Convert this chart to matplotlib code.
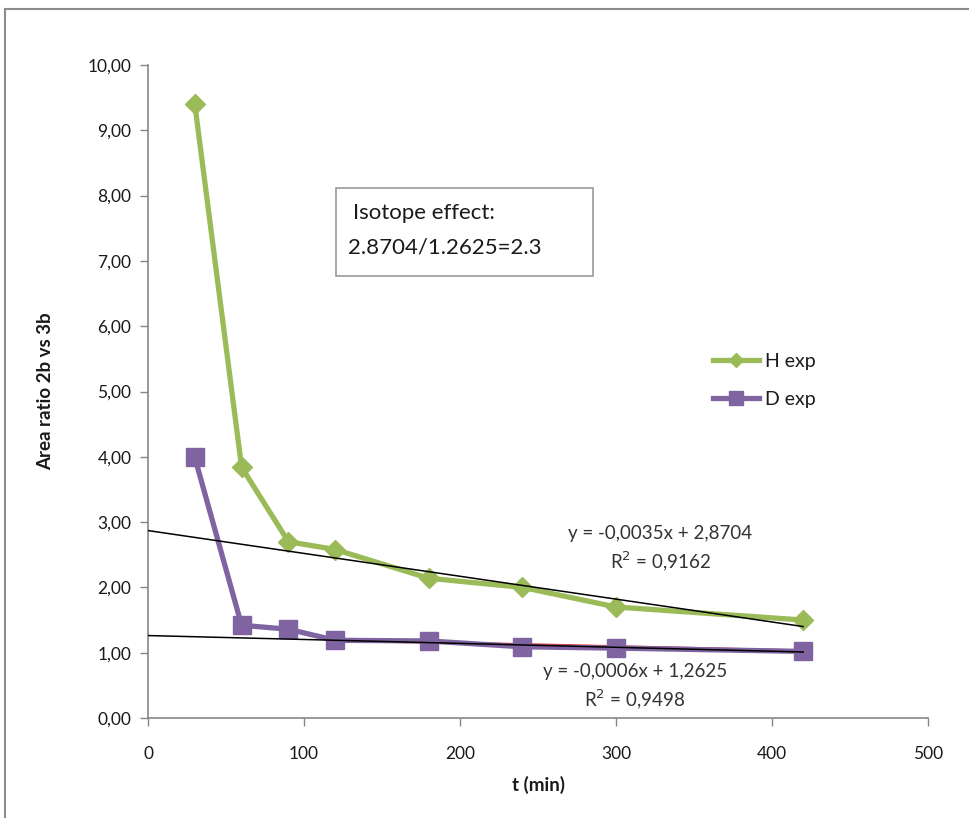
import matplotlib
matplotlib.use("Agg")
import matplotlib.pyplot as plt
from matplotlib.lines import Line2D
from matplotlib.patches import Rectangle

plt.rcParams['font.family'] = ['Lato', 'DejaVu Sans']

t = [30, 60, 90, 120, 180, 240, 300, 420]
h_exp = [9.40, 3.84, 2.70, 2.58, 2.14, 2.00, 1.70, 1.50]
d_exp = [3.99, 1.42, 1.36, 1.19, 1.18, 1.09, 1.07, 1.02]

fit_h = (-0.0035, 2.8704)
fit_d = (-0.0006, 1.2625)
fit_x = [0, 420]

x_ticks = [0, 100, 200, 300, 400, 500]
y_ticks = [0, 1, 2, 3, 4, 5, 6, 7, 8, 9, 10]

W, H = 969, 818
fig = plt.figure(figsize=(W / 100, H / 100), dpi=100)
fig.patch.set_facecolor('white')

# outer chart frame (top and left edges visible)
fig.add_artist(Line2D([5 / W, 1.0], [1 - 9 / H, 1 - 9 / H], color='#8c8c8c', lw=1.5))
fig.add_artist(Line2D([5 / W, 5 / W], [1 - 9 / H, 0.0], color='#8c8c8c', lw=1.5))

ax = fig.add_axes([148 / W, 1 - 718 / H, (928 - 148) / W, (718 - 65) / H])

green = '#9BBB59'
purple = '#8064A2'

# red trendline partly hidden under D series
ax.plot([120, 420], [d_exp[3], d_exp[-1] + 0.01], color='#e03030', lw=2.0, zorder=2)

ax.plot(t, h_exp, color=green, lw=3.8, marker='D', ms=10, mfc=green, mec=green,
        label='H exp', zorder=3)
ax.plot(t, d_exp, color=purple, lw=3.8, marker='s', ms=13, mfc=purple, mec=purple,
        label='D exp', zorder=3)

ax.plot(fit_x, [fit_h[0] * x + fit_h[1] for x in fit_x], color='black', lw=1.1, zorder=4)
ax.plot(fit_x, [fit_d[0] * x + fit_d[1] for x in fit_x], color='black', lw=1.1, zorder=4)

ax.set_xlim(0, 500)
ax.set_ylim(0, 10)
ax.set_xticks(x_ticks)
ax.set_yticks(y_ticks)
ax.set_xticklabels([str(v) for v in x_ticks])
ax.set_yticklabels([f"{v:.2f}".replace('.', ',') for v in y_ticks])

for s in ['top', 'right']:
    ax.spines[s].set_visible(False)
for s in ['left', 'bottom']:
    ax.spines[s].set_color('#868686')
    ax.spines[s].set_linewidth(1.2)

ax.tick_params(axis='both', direction='out', length=6, width=1.0, color='#868686',
               labelsize=12.5, labelcolor='#1a1a1a')
ax.tick_params(axis='x', pad=14)
ax.tick_params(axis='y', pad=6)

ax.set_xlabel('t (min)', fontsize=13.5, fontweight='bold', labelpad=10, color='#1a1a1a')
ax.set_ylabel('Area ratio 2b vs 3b', fontsize=13.5, fontweight='bold', labelpad=24, color='#1a1a1a')

# Isotope effect box
fig.text(353 / W, 1 - 213 / H, 'Isotope effect:', fontsize=16, va='center', ha='left', color='#1a1a1a')
fig.text(348 / W, 1 - 248 / H, '2.8704/1.2625=2.3', fontsize=16, va='center', ha='left', color='#1a1a1a')
fig.add_artist(Rectangle((336 / W, 1 - 276 / H), (593 - 336) / W, (276 - 188) / H,
                         transform=fig.transFigure, fill=False, ec='#9a9a9a', lw=1.2))

# trendline equations
fig.text(660 / W, 1 - 534 / H, 'y = -0,0035x + 2,8704', fontsize=13.5, ha='center', va='center', color='#333333')
fig.text(660 / W, 1 - 561 / H, 'R$^2$ = 0,9162', fontsize=13.5, ha='center', va='center', color='#333333')
fig.text(635 / W, 1 - 672 / H, 'y = -0,0006x + 1,2625', fontsize=13.5, ha='center', va='center', color='#333333')
fig.text(635 / W, 1 - 699 / H, 'R$^2$ = 0,9498', fontsize=13.5, ha='center', va='center', color='#333333')

leg = ax.legend(loc='upper left', bbox_to_anchor=(695 / W, 1 - 335 / H), bbox_transform=fig.transFigure,
                frameon=False, fontsize=14, handlelength=2.4, labelspacing=1.1, handletextpad=0.3,
                markerscale=0.75)
for txt in leg.get_texts():
    txt.set_color('#1a1a1a')

fig.savefig('out.png', dpi=100)
